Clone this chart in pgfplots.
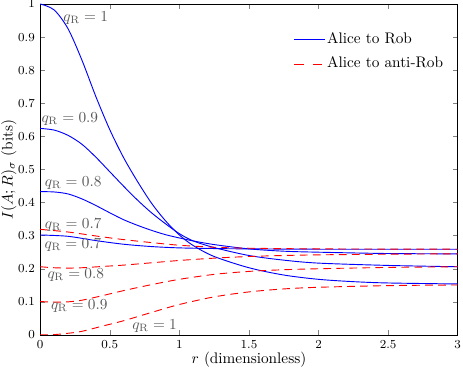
\documentclass[border=0pt]{standalone}
\usepackage{pgfplots}
\pgfplotsset{compat=1.18}
\pgfplotsset{
  rob/.style={color=blue, line width=0.6pt, smooth},
  anti/.style={color=red, line width=0.6pt, smooth, dash pattern=on 5pt off 3.5pt},
}

\begin{document}
\begin{tikzpicture}
\begin{axis}[
  scale only axis,
  width=272.8pt, height=216.3pt,
  xmin=0, xmax=3, ymin=0, ymax=1,
  xtick={0,0.5,...,3},
  ytick={0,0.1,...,1},
  tick align=inside,
  major tick length=3pt,
  tick label style={font=\fontsize{8.5}{10}\selectfont},
  xlabel={$r$ (dimensionless)},
  ylabel={$I(A;R)_\sigma$ (bits)},
  xlabel style={at={(axis description cs:0.5,0)}, anchor=north, inner sep=0pt, yshift=-11pt},
  ylabel style={at={(axis description cs:0,0.5)}, rotate=0, anchor=south, inner sep=0pt, yshift=15.4pt},
  legend style={draw=none, fill=none, at={(0.607,0.92)}, anchor=north west,
    row sep=5.3pt, inner sep=0pt, nodes={inner sep=1pt, text height=7pt, text depth=2pt}},
  legend cell align=left,
]
\addlegendimage{legend image code/.code={\draw[blue, line width=0.75pt] (0pt,0pt) -- (20pt,0pt);}}
\addlegendimage{legend image code/.code={\draw[red, line width=0.75pt, dash pattern=on 6pt off 6pt] (0pt,0pt) -- (20pt,0pt);}}
\legend{Alice to Rob, Alice to anti-Rob}
% Alice to Rob
\addplot[rob, forget plot] coordinates {
  (0,1.0) (0.1,0.982) (0.2,0.925) (0.3,0.83) (0.4,0.72) (0.5,0.62)
  (0.6,0.535) (0.7,0.463) (0.8,0.398) (0.9,0.345) (1.0,0.302) (1.1,0.27)
  (1.25,0.237) (1.5,0.203) (1.75,0.181) (2.0,0.168) (2.25,0.161)
  (2.5,0.157) (3,0.154)};
\addplot[rob, forget plot] coordinates {
  (0,0.624) (0.1,0.619) (0.2,0.603) (0.3,0.576) (0.4,0.537) (0.5,0.493)
  (0.6,0.449) (0.7,0.407) (0.8,0.369) (0.9,0.336) (1.0,0.306) (1.1,0.284)
  (1.25,0.264) (1.5,0.240) (1.75,0.226) (2.0,0.217) (2.5,0.210) (3,0.206)};
\addplot[rob, forget plot] coordinates {
  (0,0.433) (0.1,0.432) (0.2,0.426) (0.3,0.411) (0.4,0.391) (0.5,0.369)
  (0.6,0.348) (0.7,0.331) (0.8,0.316) (0.9,0.303) (1.0,0.293) (1.1,0.284)
  (1.25,0.273) (1.5,0.260) (1.75,0.253) (2.0,0.250) (2.5,0.246) (3,0.245)};
\addplot[rob, forget plot] coordinates {
  (0,0.302) (0.2,0.298) (0.4,0.285) (0.6,0.274) (0.8,0.267) (1.0,0.263)
  (1.25,0.261) (1.5,0.260) (2,0.259) (3,0.259)};
% Alice to anti-Rob
\addplot[anti, forget plot] coordinates {
  (0,0.319) (0.2,0.311) (0.4,0.299) (0.6,0.288) (0.8,0.279) (1.0,0.271)
  (1.25,0.265) (1.5,0.262) (2,0.260) (3,0.259)};
\addplot[anti, forget plot] coordinates {
  (0,0.206) (0.1,0.203) (0.2,0.202) (0.3,0.203) (0.45,0.207) (0.6,0.211)
  (0.8,0.218) (1.0,0.225) (1.25,0.232) (1.5,0.237) (1.75,0.240) (2.0,0.242)
  (2.5,0.244) (3,0.245)};
\addplot[anti, forget plot] coordinates {
  (0,0.101) (0.1,0.099) (0.2,0.100) (0.3,0.105) (0.45,0.119) (0.6,0.134)
  (0.8,0.152) (1.0,0.168) (1.25,0.183) (1.5,0.192) (1.75,0.197) (2.0,0.200)
  (2.5,0.204) (3,0.206)};
\addplot[anti, forget plot] coordinates {
  (0,0.0) (0.1,0.001) (0.2,0.005) (0.3,0.011) (0.45,0.027) (0.6,0.043)
  (0.8,0.068) (1.0,0.092) (1.25,0.115) (1.5,0.130) (1.75,0.139) (2.0,0.144)
  (2.5,0.149) (3,0.151)};

% curve labels
\begin{scope}[every node/.style={text=black!65, inner sep=0pt}]
\node at (axis cs:0.327,0.957) {$q_{\rm R} = 1$};
\node at (axis cs:0.213,0.652) {$q_{\rm R} = 0.9$};
\node at (axis cs:0.237,0.46) {$q_{\rm R} = 0.8$};
\node at (axis cs:0.237,0.332) {$q_{\rm R} = 0.7$};
\node at (axis cs:0.235,0.272) {$q_{\rm R} = 0.7$};
\node at (axis cs:0.256,0.181) {$q_{\rm R} = 0.8$};
\node at (axis cs:0.281,0.088) {$q_{\rm R} = 0.9$};
\node at (axis cs:0.822,0.027) {$q_{\rm R} = 1$};
\end{scope}
\end{axis}
\pgfresetboundingbox
\path[use as bounding box] ([xshift=-26.3pt,yshift=-22.2pt]current axis.south west)
  rectangle ([xshift=3.5pt,yshift=2.6pt]current axis.north east);
\end{tikzpicture}
\end{document}
